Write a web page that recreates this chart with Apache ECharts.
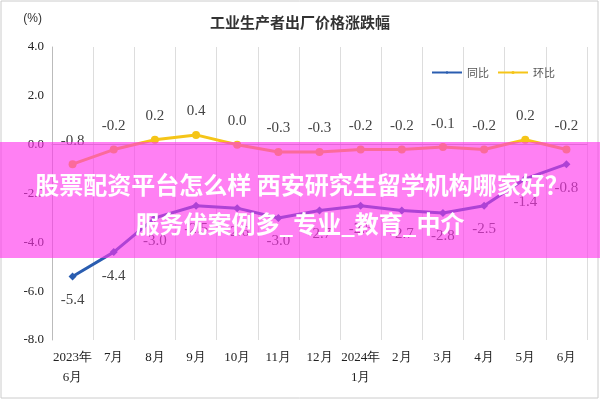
<!DOCTYPE html><html><head><meta charset="utf-8"><script src="https://cdn.jsdelivr.net/npm/echarts@6/dist/echarts.min.js"></script></head><body style="margin:0"><div id="c" style="width:600px;height:400px"></div><script>
const categories=['2023年\n6月','7月','8月','9月','10月','11月','12月','2024年\n1月','2月','3月','4月','5月','6月'];
const yoy=[-5.4,-4.4,-3.0,-2.5,-2.6,-3.0,-2.7,-2.5,-2.7,-2.8,-2.5,-1.4,-0.8];
const mom=[-0.8,-0.2,0.2,0.4,0.0,-0.3,-0.3,-0.2,-0.2,-0.1,-0.2,0.2,-0.2];
const serif='"Liberation Serif","DejaVu Serif",serif';
const c=echarts.init(document.getElementById('c'));
c.setOption({
 title:{text:'工业生产者出厂价格涨跌幅',left:'center',top:10,textStyle:{fontSize:15,fontWeight:'bold',color:'#333',fontFamily:'"Noto Sans CJK SC"'}},
 legend:{right:40,top:62,itemWidth:30,itemHeight:4,textStyle:{fontSize:11,color:'#555',fontFamily:'"Noto Sans CJK SC"'},data:['同比','环比']},
 grid:{left:52,right:13,top:47,bottom:60},
 xAxis:{type:'category',data:categories,axisTick:{show:false},axisLine:{lineStyle:{color:'#bbb'}},splitLine:{show:true,lineStyle:{color:'#ddd'}},axisLabel:{interval:0,color:'#222',fontSize:13,fontFamily:serif,lineHeight:20}},
 yAxis:{type:'value',min:-8,max:4,interval:2,axisLine:{show:true,lineStyle:{color:'#bbb'}},splitLine:{show:false},axisLabel:{color:'#222',fontSize:13,fontFamily:serif,formatter:v=>v.toFixed(1)},name:'(%)',nameLocation:'end',nameGap:22,nameTextStyle:{align:'right',fontSize:12,color:'#333',padding:[0,10,0,0]}},
 series:[
  {name:'同比',type:'line',data:yoy,color:'#2a5db0',symbol:'diamond',symbolSize:8,lineStyle:{width:3},label:{show:true,position:'bottom',distance:12,fontSize:15,color:'#444',fontFamily:serif,formatter:p=>p.value.toFixed(1)}},
  {name:'环比',type:'line',data:mom,color:'#f5c518',symbol:'circle',symbolSize:8,lineStyle:{width:3},label:{show:true,position:'top',distance:12,fontSize:15,color:'#444',fontFamily:serif,formatter:p=>p.value.toFixed(1)}}
 ],
 graphic:[
  {type:'rect',shape:{x:1,y:1,width:597,height:397},style:{fill:'none',stroke:'#ccc'}},
  {type:'rect',shape:{x:0,y:142,width:600,height:116},style:{fill:'rgba(255,50,235,0.62)'},z:100},
  {type:'text',x:302,y:185,style:{text:'股票配资平台怎么样 西安研究生留学机构哪家好？',fill:'#fff',font:'bold 24px "Noto Sans CJK SC"',align:'center',verticalAlign:'middle'},z:101},
  {type:'text',x:300,y:224,style:{text:'服务优案例多_专业_教育_中介',fill:'#fff',font:'bold 24px "Noto Sans CJK SC"',align:'center',verticalAlign:'middle'},z:101}
 ]
});
</script></body></html>
